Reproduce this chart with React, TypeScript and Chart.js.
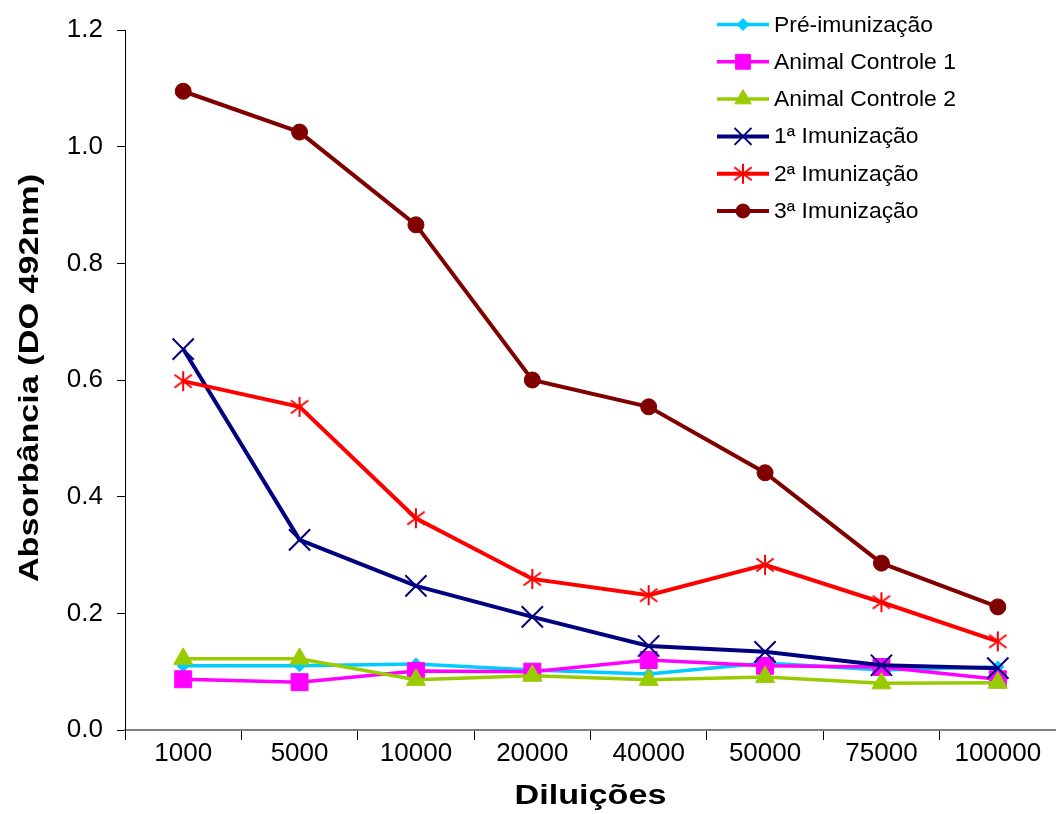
import React, { useEffect, useRef } from 'react';
import { Chart, registerables } from 'chart.js';
import { drawPoint } from 'chart.js/helpers';

Chart.register(...registerables);

const categories = ['1000', '5000', '10000', '20000', '40000', '50000', '75000', '100000'];
const yTicks = [0, 0.2, 0.4, 0.6, 0.8, 1.0, 1.2];

const preImunizacao = [0.110, 0.110, 0.113, 0.103, 0.096, 0.115, 0.103, 0.108];
const controle1 = [0.087, 0.082, 0.101, 0.100, 0.120, 0.110, 0.108, 0.087];
const controle2 = [0.122, 0.122, 0.086, 0.093, 0.086, 0.091, 0.080, 0.081];
const imunizacao1 = [0.653, 0.326, 0.247, 0.194, 0.144, 0.134, 0.111, 0.106];
const imunizacao2 = [0.598, 0.554, 0.363, 0.259, 0.231, 0.283, 0.219, 0.152];
const imunizacao3 = [1.095, 1.025, 0.866, 0.600, 0.554, 0.441, 0.286, 0.211];

const seriesLabels = [
  'Pré-imunização',
  'Animal Controle 1',
  'Animal Controle 2',
  '1ª Imunização',
  '2ª Imunização',
  '3ª Imunização',
];

const xTitle = 'Diluições';
const yTitle = 'Absorbância (DO 492nm)';

const FONT = '"Liberation Sans", Arial, Helvetica, sans-serif';

function makeStar(color: string, size: number, lw: number): HTMLCanvasElement {
  const c = document.createElement('canvas');
  c.width = size;
  c.height = size;
  const ctx = c.getContext('2d')!;
  ctx.strokeStyle = color;
  ctx.lineWidth = lw;
  const m = size / 2;
  const r = size / 2 - 1;
  ctx.beginPath();
  ctx.moveTo(m, m - r);
  ctx.lineTo(m, m + r);
  const a = Math.PI / 6;
  ctx.moveTo(m - r * Math.cos(a), m - r * Math.sin(a) * 1.3);
  ctx.lineTo(m + r * Math.cos(a), m + r * Math.sin(a) * 1.3);
  ctx.moveTo(m + r * Math.cos(a), m - r * Math.sin(a) * 1.3);
  ctx.lineTo(m - r * Math.cos(a), m + r * Math.sin(a) * 1.3);
  ctx.stroke();
  return c;
}

export default function App() {
  const canvasRef = useRef<HTMLCanvasElement | null>(null);

  useEffect(() => {
    document.body.style.margin = '0';
    const star = makeStar('#FF0000', 22, 2);

    const styles = [
      { color: '#00CCFF', pointStyle: 'rectRot', radius: 6, bw: 1, lw: 3.5, legendRadius: 6 },
      { color: '#FF00FF', pointStyle: 'rect', radius: 12, bw: 1, lw: 3.5, legendRadius: 10.5 },
      { color: '#99CC00', pointStyle: 'triangle', radius: 11, bw: 1, lw: 3.5, legendRadius: 9.5 },
      { color: '#000080', pointStyle: 'crossRot', radius: 15, bw: 2, lw: 4, legendRadius: 12 },
      { color: '#FF0000', pointStyle: star as any, radius: 11, bw: 2, lw: 4, legendRadius: 11 },
      { color: '#800000', pointStyle: 'circle', radius: 8, bw: 1, lw: 4, legendRadius: 7 },
    ];
    const values = [preImunizacao, controle1, controle2, imunizacao1, imunizacao2, imunizacao3];

    const datasets = values.map((data, i) => ({
      label: seriesLabels[i],
      data,
      borderColor: styles[i].color,
      backgroundColor: styles[i].color,
      borderWidth: styles[i].lw,
      pointStyle: styles[i].pointStyle,
      pointRadius: styles[i].radius,
      pointBorderWidth: styles[i].bw,
      pointBorderColor: styles[i].color,
      pointBackgroundColor: styles[i].color,
      tension: 0,
      fill: false,
      order: values.length - i,
    }));

    const titlesAndLegend = {
      id: 'titlesAndLegend',
      afterDraw(chart: any) {
        const ctx = chart.ctx as CanvasRenderingContext2D;
        const area = chart.chartArea;
        ctx.save();
        ctx.fillStyle = '#000';
        ctx.font = `bold 28px ${FONT}`;
        ctx.textAlign = 'center';
        ctx.textBaseline = 'middle';
        ctx.save();
        ctx.translate((area.left + area.right) / 2, chart.height - 18);
        ctx.scale(1.22, 1);
        ctx.fillText(xTitle, 0, 0);
        ctx.restore();
        ctx.save();
        ctx.translate(30, (area.top + area.bottom) / 2 - 2);
        ctx.rotate(-Math.PI / 2);
        ctx.scale(1.22, 1);
        ctx.fillText(yTitle, 0, 0);
        ctx.restore();

        const lx0 = 717;
        const lx1 = 769;
        const rowY0 = 24.5;
        const rowGap = 37.3;
        ctx.font = `22px ${FONT}`;
        ctx.textAlign = 'left';
        ctx.textBaseline = 'middle';
        seriesLabels.forEach((label, i) => {
          const s = styles[i];
          const y = rowY0 + i * rowGap;
          ctx.strokeStyle = s.color;
          ctx.lineWidth = s.lw;
          ctx.beginPath();
          ctx.moveTo(lx0, y);
          ctx.lineTo(lx1, y);
          ctx.stroke();
          ctx.fillStyle = s.color;
          ctx.strokeStyle = s.color;
          ctx.lineWidth = s.bw;
          drawPoint(ctx, { pointStyle: s.pointStyle, rotation: 0, radius: s.legendRadius, borderWidth: s.bw } as any, (lx0 + lx1) / 2, y);
          ctx.fillStyle = '#000';
          ctx.save();
          ctx.translate(774, y + 1);
          ctx.scale(1.04, 1);
          ctx.fillText(label, 0, 0);
          ctx.restore();
        });
        ctx.restore();
      },
    };

    const chart = new Chart(canvasRef.current!, {
      type: 'line',
      data: { labels: categories, datasets },
      options: {
        animation: false,
        responsive: true,
        maintainAspectRatio: false,
        layout: { autoPadding: false, padding: { top: 30, right: 0, bottom: 0, left: 0 } },
        plugins: {
          legend: { display: false },
          tooltip: { enabled: false },
          title: { display: false },
        },
        scales: {
          x: {
            type: 'category',
            offset: true,
            grid: {
              display: true,
              drawOnChartArea: false,
              drawTicks: true,
              tickLength: 10,
              color: '#000',
              lineWidth: 1,
              offset: true,
            },
            border: { display: true, color: '#808080', width: 2 },
            ticks: {
              color: '#000',
              font: { family: FONT, size: 26 },
              padding: -2,
              maxRotation: 0,
              autoSkip: false,
            },
            afterFit(scale: any) {
              scale.height = 84;
              scale.paddingLeft = 0;
              scale.paddingRight = 0;
            },
          },
          y: {
            min: 0,
            max: 1.2,
            afterBuildTicks(scale: any) {
              scale.ticks = yTicks.map((v) => ({ value: v }));
            },
            grid: {
              display: true,
              drawOnChartArea: false,
              drawTicks: true,
              tickLength: 8,
              color: '#000',
              lineWidth: 1,
            },
            border: { display: true, color: '#000', width: 1 },
            ticks: {
              color: '#000',
              font: { family: FONT, size: 26 },
              padding: 14,
              callback: (v: any) => Number(v).toFixed(1),
            },
            afterFit(scale: any) {
              scale.width = 125;
            },
          },
        },
      },
      plugins: [titlesAndLegend],
    });

    return () => chart.destroy();
  }, []);

  return (
    <div style={{ position: 'absolute', left: 0, top: 0, width: 1056, height: 814 }}>
      <canvas ref={canvasRef} />
    </div>
  );
}
